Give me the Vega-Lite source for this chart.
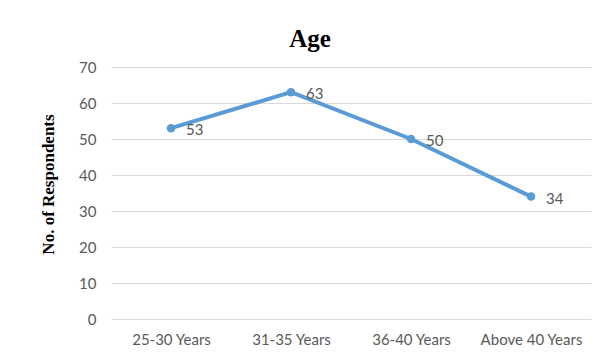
{
  "$schema": "https://vega.github.io/schema/vega-lite/v6.json",
  "autosize": "none",
  "width": 480,
  "height": 252,
  "padding": {"left": 111, "top": 67, "right": 12, "bottom": 35},
  "background": "white",
  "title": {
    "text": "Age",
    "font": "Liberation Serif",
    "fontSize": 25,
    "fontWeight": "bold",
    "color": "#000000",
    "anchor": "middle",
    "dx": -41,
    "offset": 8
  },
  "data": {
    "values": [
      {"age": "25-30 Years", "count": 53},
      {"age": "31-35 Years", "count": 63},
      {"age": "36-40 Years", "count": 50},
      {"age": "Above 40 Years", "count": 34}
    ]
  },
  "config": {
    "view": {"stroke": null},
    "axis": {"labelFont": "Lato", "labelColor": "#595959", "labelFontSize": 15}
  },
  "encoding": {
    "x": {
      "field": "age",
      "type": "nominal",
      "sort": null,
      "scale": {"type": "point", "padding": 0.5},
      "axis": {
        "title": null,
        "labelAngle": 0,
        "domain": false,
        "ticks": false,
        "grid": false,
        "labelPadding": 13
      }
    },
    "y": {
      "field": "count",
      "type": "quantitative",
      "scale": {"domain": [0, 70]},
      "axis": {
        "title": "No. of Respondents",
        "titleFont": "Liberation Serif",
        "titleFontSize": 17,
        "titleFontWeight": "bold",
        "titleColor": "#000000",
        "titlePadding": 21,
        "titleY": 117,
        "values": [0, 10, 20, 30, 40, 50, 60, 70],
        "domain": false,
        "ticks": false,
        "gridColor": "#d9d9d9",
        "gridWidth": 1,
        "labelPadding": 15
      }
    }
  },
  "layer": [
    {"mark": {"type": "line", "color": "#5B9BD5", "strokeWidth": 4}},
    {"mark": {"type": "point", "filled": true, "color": "#5B9BD5", "size": 72, "opacity": 1}},
    {
      "mark": {"type": "text", "align": "left", "baseline": "middle", "dx": 15, "dy": 2, "font": "Lato", "fontSize": 15, "color": "#595959"},
      "encoding": {"text": {"field": "count", "type": "quantitative"}}
    }
  ]
}
